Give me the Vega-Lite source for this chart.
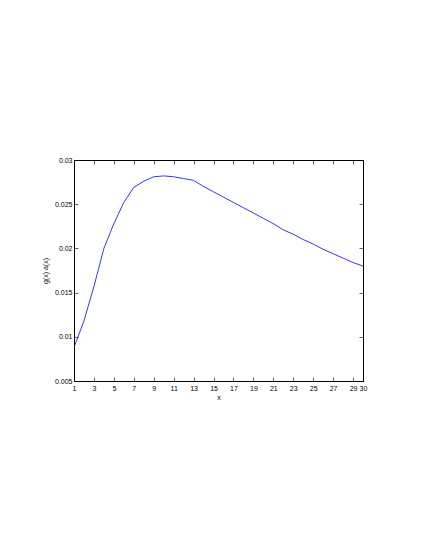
{
  "$schema": "https://vega.github.io/schema/vega-lite/v6.json",
  "autosize": "none",
  "width": 289,
  "height": 221,
  "padding": {"left": 74, "top": 160, "right": 62, "bottom": 169},
  "background": "white",
  "config": {
    "view": {"stroke": "black", "strokeWidth": 1},
    "font": "Liberation Sans",
    "axis": {
      "grid": false,
      "domainColor": "black",
      "tickColor": "black",
      "labelColor": "black",
      "titleColor": "black",
      "labelFontSize": 7,
      "titleFontSize": 7,
      "titleFontWeight": "normal",
      "tickSize": -4,
      "tickWidth": 0.6,
      "domainWidth": 1
    }
  },
  "data": {
    "values": [
      {"x": 1, "y": 0.0088},
      {"x": 2, "y": 0.0118},
      {"x": 3, "y": 0.0157},
      {"x": 4, "y": 0.0200},
      {"x": 5, "y": 0.0228},
      {"x": 6, "y": 0.0252},
      {"x": 7, "y": 0.0269},
      {"x": 8, "y": 0.0276},
      {"x": 9, "y": 0.0281},
      {"x": 10, "y": 0.0282},
      {"x": 11, "y": 0.0281},
      {"x": 12, "y": 0.0279},
      {"x": 13, "y": 0.0277},
      {"x": 14, "y": 0.0270},
      {"x": 15, "y": 0.0264},
      {"x": 16, "y": 0.0258},
      {"x": 17, "y": 0.0252},
      {"x": 18, "y": 0.0246},
      {"x": 19, "y": 0.0240},
      {"x": 20, "y": 0.0234},
      {"x": 21, "y": 0.0228},
      {"x": 22, "y": 0.0221},
      {"x": 23, "y": 0.0216},
      {"x": 24, "y": 0.0210},
      {"x": 25, "y": 0.0205},
      {"x": 26, "y": 0.0199},
      {"x": 27, "y": 0.0194},
      {"x": 28, "y": 0.0189},
      {"x": 29, "y": 0.0184},
      {"x": 30, "y": 0.0180}
    ]
  },
  "layer": [
    {
      "mark": {"type": "line", "color": "#0000ff", "strokeWidth": 0.8, "clip": true},
      "encoding": {
        "x": {
          "field": "x", "type": "quantitative",
          "scale": {"domain": [1, 30], "nice": false, "zero": false},
          "axis": {
            "orient": "bottom",
            "values": [1, 3, 5, 7, 9, 11, 13, 15, 17, 19, 21, 23, 25, 27, 29, 30],
            "labelPadding": 7,
            "labelFlush": false,
            "labelOverlap": false,
            "title": "x",
            "titlePadding": 2
          }
        },
        "y": {
          "field": "y", "type": "quantitative",
          "scale": {"domain": [0.005, 0.03], "nice": false, "zero": false},
          "axis": {
            "orient": "left",
            "values": [0.005, 0.01, 0.015, 0.02, 0.025, 0.03],
            "format": ".3~f",
            "labelPadding": 6,
            "labelFlush": false,
            "labelOverlap": false,
            "title": "g(x) a(x)",
            "titlePadding": 6
          }
        }
      }
    },
    {
      "mark": {"type": "line", "opacity": 0},
      "encoding": {
        "x": {
          "field": "x", "type": "quantitative",
          "scale": {"domain": [1, 30], "nice": false, "zero": false},
          "axis": {
            "orient": "top",
            "values": [1, 3, 5, 7, 9, 11, 13, 15, 17, 19, 21, 23, 25, 27, 29, 30],
            "labels": false,
            "title": null
          }
        },
        "y": {
          "field": "y", "type": "quantitative",
          "scale": {"domain": [0.005, 0.03], "nice": false, "zero": false},
          "axis": {
            "orient": "right",
            "values": [0.005, 0.01, 0.015, 0.02, 0.025, 0.03],
            "labels": false,
            "title": null
          }
        }
      }
    }
  ],
  "resolve": {"axis": {"x": "independent", "y": "independent"}}
}
